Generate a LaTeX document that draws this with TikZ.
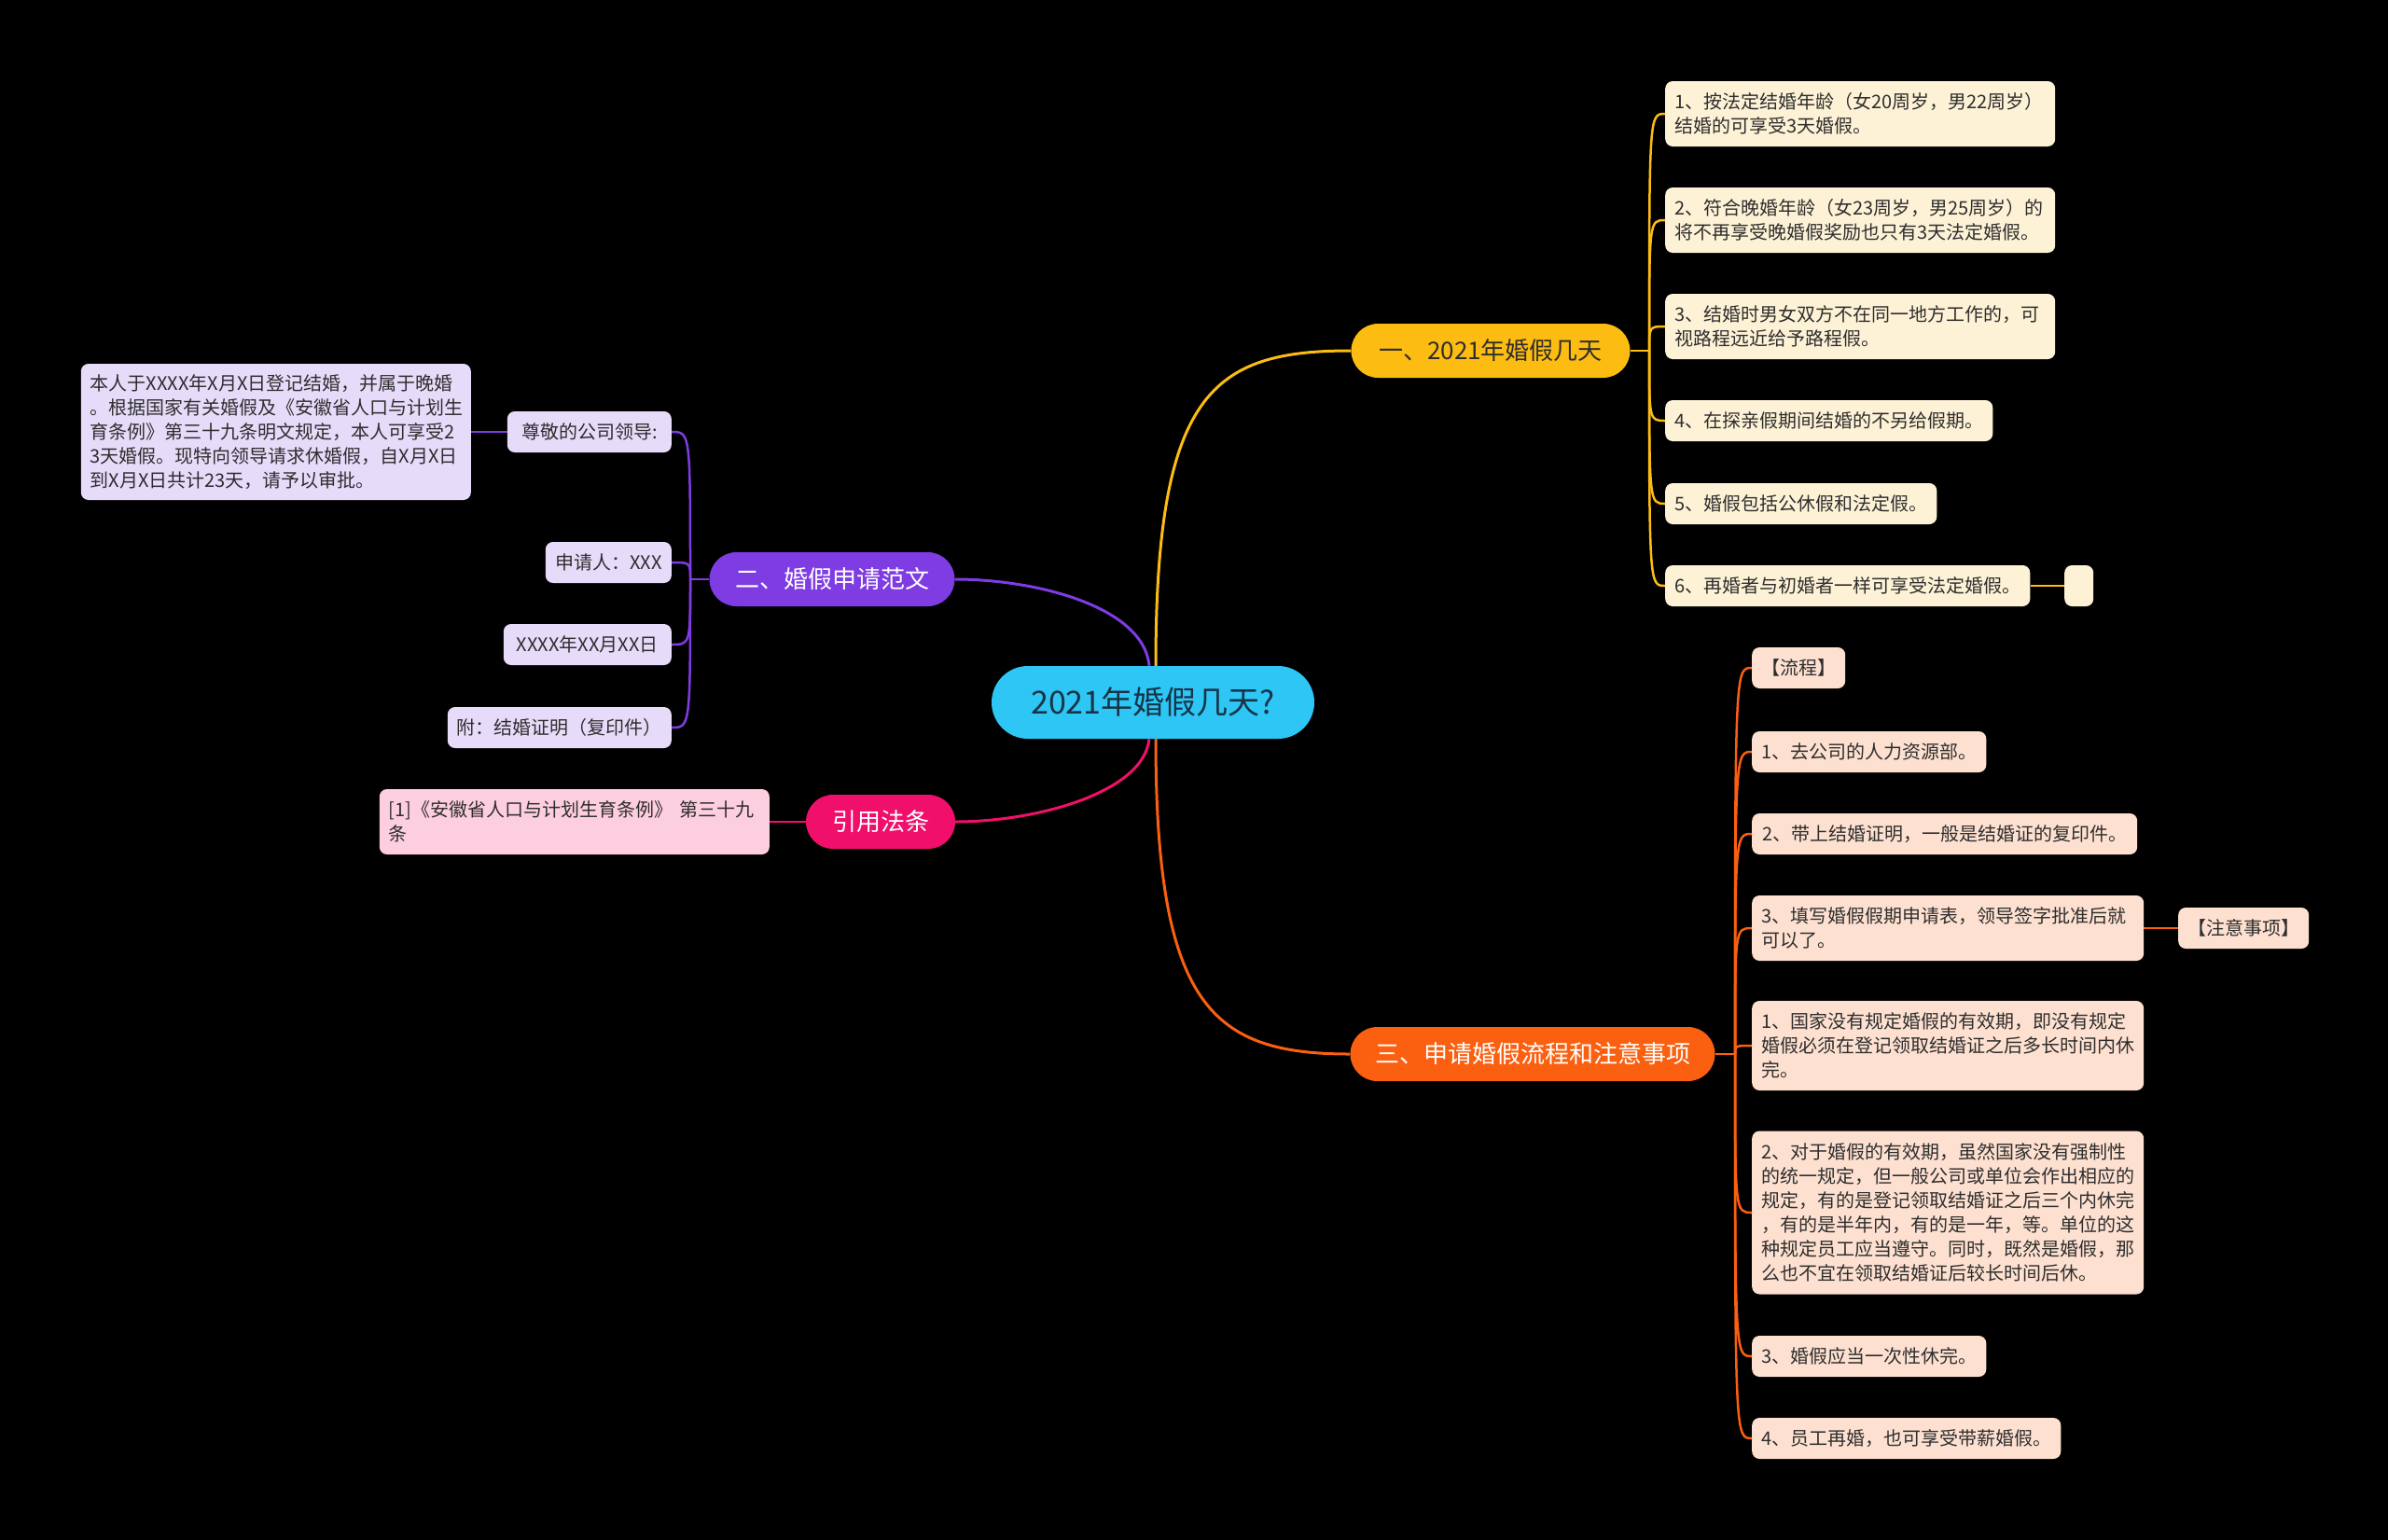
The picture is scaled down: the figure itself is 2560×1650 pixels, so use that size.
\documentclass[tikz,border=0pt]{standalone}
\usepackage{fontspec}
\setmainfont{Noto Sans CJK SC}
\usetikzlibrary{calc}
\definecolor{rootc}{HTML}{2EC6F5}
\definecolor{roottext}{HTML}{173447}
\definecolor{ylwc}{HTML}{FDBC12}
\definecolor{ylwl}{HTML}{FEF2D6}
\definecolor{purc}{HTML}{7E3CE2}
\definecolor{purl}{HTML}{E7DBFA}
\definecolor{magc}{HTML}{F0106B}
\definecolor{magl}{HTML}{FDCEDF}
\definecolor{orac}{HTML}{FA6010}
\definecolor{oral}{HTML}{FDE0D0}
\definecolor{darktext}{HTML}{2E2E2E}
\tikzset{
  rootnode/.style={fill=rootc, rounded corners=39pt, minimum width=346pt, minimum height=78pt, inner sep=0pt, font=\fontsize{34}{40}\selectfont, text=roottext},
  branchnode/.style={rounded corners=29pt, minimum height=58pt, inner sep=0pt, font=\fontsize{26}{30}\selectfont},
  leafnode/.style={rounded corners=8pt, font=\fontsize{20}{26}\selectfont, text=darktext, align=left, inner xsep=10pt, inner ysep=0pt, minimum height=44pt},
  ylwleaf/.style={leafnode, fill=ylwl, anchor=west},
  purleaf/.style={leafnode, fill=purl, anchor=east},
  magleaf/.style={leafnode, fill=magl, anchor=east},
  oraleaf/.style={leafnode, fill=oral, anchor=west},
  conn/.style={line width=3pt},
  thinconn/.style={line width=2.5pt},
}
\begin{document}
\begin{tikzpicture}[x=1pt,y=-1pt]
\useasboundingbox (0,0) rectangle (2560,1650);
\fill[black] (-10,-10) rectangle (2570,1660);

% root
\node[rootnode] (root) at (1236,753) {2021年婚假几天?};

% branches
\node[branchnode, fill=ylwc, text=darktext, minimum width=299pt] (by) at (1598,376) {一、2021年婚假几天};
\node[branchnode, fill=purc, text=white, minimum width=263pt] (bp) at (892,621) {二、婚假申请范文};
\node[branchnode, fill=magc, text=white, minimum width=160pt] (bm) at (944,881) {引用法条};
\node[branchnode, fill=orac, text=white, minimum width=391pt] (bo) at (1643,1130) {三、申请婚假流程和注意事项};

% yellow leaves
\node[ylwleaf, text width=398pt, minimum height=70pt] (y1) at (1785,122) {1、按法定结婚年龄（女20周岁，男22周岁）\\结婚的可享受3天婚假。};
\node[ylwleaf, text width=398pt, minimum height=70pt] (y2) at (1785,236) {2、符合晚婚年龄（女23周岁，男25周岁）的\\将不再享受晚婚假奖励也只有3天法定婚假。};
\node[ylwleaf, text width=398pt, minimum height=70pt] (y3) at (1785,350) {3、结婚时男女双方不在同一地方工作的，可\\视路程远近给予路程假。};
\node[ylwleaf, minimum width=349pt] (y4) at (1785,451) {4、在探亲假期间结婚的不另给假期。};
\node[ylwleaf, minimum width=289pt] (y5) at (1785,540) {5、婚假包括公休假和法定假。};
\node[ylwleaf, minimum width=390pt] (y6) at (1785,628) {6、再婚者与初婚者一样可享受法定婚假。};
\node[ylwleaf, minimum width=31pt, inner xsep=0pt] (y7) at (2213,628) {};

% purple leaves
\node[purleaf, minimum width=176pt] (p1) at (720,463) {尊敬的公司领导:};
\node[purleaf, minimum width=135pt] (p2) at (720,603) {申请人：XXX};
\node[purleaf, minimum width=180pt] (p3) at (720,691) {XXXX年XX月XX日};
\node[purleaf, minimum width=237pt] (p4) at (720,780) {附：结婚证明（复印件）};
\node[purleaf, text width=398pt, minimum height=146pt] (p5) at (505,463) {本人于XXXX年X月X日登记结婚，并属于晚婚\\。根据国家有关婚假及《安徽省人口与计划生\\育条例》第三十九条明文规定，本人可享受2\\3天婚假。现特向领导请求休婚假，自X月X日\\到X月X日共计23天，请予以审批。};

% magenta leaf
\node[magleaf, text width=398pt, minimum height=70pt] (m1) at (825,881) {[1]《安徽省人口与计划生育条例》~第三十九\\条};

% orange leaves
\node[oraleaf, minimum width=100pt] (o1) at (1878,716) {【流程】};
\node[oraleaf, minimum width=251pt] (o2) at (1878,806) {1、去公司的人力资源部。};
\node[oraleaf, minimum width=413pt] (o3) at (1878,894) {2、带上结婚证明，一般是结婚证的复印件。};
\node[oraleaf, text width=400pt, minimum height=70pt] (o4) at (1878,995) {3、填写婚假假期申请表，领导签字批准后就\\可以了。};
\node[oraleaf, minimum width=139pt] (o4a) at (2335,995) {【注意事项】};
\node[oraleaf, text width=400pt, minimum height=96pt] (o5) at (1878,1121) {1、国家没有规定婚假的有效期，即没有规定\\婚假必须在登记领取结婚证之后多长时间内休\\完。};
\node[oraleaf, text width=400pt, minimum height=175pt] (o6) at (1878,1300) {2、对于婚假的有效期，虽然国家没有强制性\\的统一规定，但一般公司或单位会作出相应的\\规定，有的是登记领取结婚证之后三个内休完\\，有的是半年内，有的是一年，等。单位的这\\种规定员工应当遵守。同时，既然是婚假，那\\么也不宜在领取结婚证后较长时间后休。};
\node[oraleaf, minimum width=251pt] (o7) at (1878,1454) {3、婚假应当一次性休完。};
\node[oraleaf, minimum width=331pt] (o8) at (1878,1542) {4、员工再婚，也可享受带薪婚假。};

% main connectors
\draw[conn, ylwc] ($(root.north)+(3,0)$) .. controls (1239,420) and (1300,376) .. (by.west);
\draw[conn, orac] ($(root.south)+(3,0)$) .. controls (1239,1080) and (1300,1130) .. (bo.west);
\draw[conn, purc] ($(root.north)+(-4,0)$) .. controls (1226,650) and (1110,621) .. (bp.east);
\draw[conn, magc] ($(root.south)+(-4,0)$) .. controls (1226,850) and (1110,881) .. (bm.east);

% yellow fan
\coordinate (fy) at (1768,376);
\draw[thinconn, ylwc] (by.east) -- (fy);
\foreach \n in {y1,y2,y3,y4,y5,y6}
  \draw[thinconn, ylwc] (fy) .. controls (fy |- \n.west) .. (\n.west);
\draw[thinconn, ylwc] (y6.east) -- (y7.west);

% purple fan
\coordinate (fp) at (740,621);
\draw[thinconn, purc] (bp.west) -- (fp);
\foreach \n in {p1,p2,p3,p4}
  \draw[thinconn, purc] (fp) .. controls (fp |- \n.east) .. (\n.east);
\draw[thinconn, purc] (p1.west) -- (p5.east);

% magenta
\draw[thinconn, magc] (bm.west) -- (m1.east);

% orange fan
\coordinate (fo) at (1860,1130);
\draw[thinconn, orac] (bo.east) -- (fo);
\foreach \n in {o1,o2,o3,o4,o5,o6,o7,o8}
  \draw[thinconn, orac] (fo) .. controls (fo |- \n.west) .. (\n.west);
\draw[thinconn, orac] (o4.east) -- (o4a.west);
\end{tikzpicture}
\end{document}
